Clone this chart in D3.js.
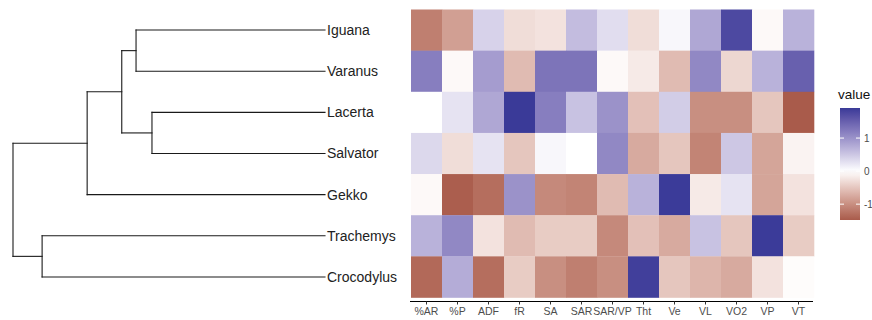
<!DOCTYPE html>
<html>
<head>
<meta charset="utf-8">
<script src="https://cdn.jsdelivr.net/npm/d3@7"></script>
<style>
  html, body { margin: 0; padding: 0; background: #fff; }
  svg { display: block; font-family: "Liberation Sans", Arial, Helvetica, sans-serif; }
</style>
</head>
<body>
<svg id="chart" width="872" height="320"></svg>
<script>
// --- datos ---
const species = ["Iguana", "Varanus", "Lacerta", "Salvator", "Gekko", "Trachemys", "Crocodylus"];
const variables = ["%AR", "%P", "ADF", "fR", "SA", "SAR", "SAR/VP", "Tht", "Ve", "VL", "VO2", "VP", "VT"];

// valores escalados, una fila por especie (mismo orden que species)
const iguanaVals     = [-1.15, -0.85,  0.40, -0.30, -0.25,  0.60,  0.30, -0.30,  0.07,  0.80,  1.75, -0.05,  0.70];
const varanusVals    = [ 1.20, -0.05,  0.90, -0.60,  1.30,  1.30, -0.05, -0.18, -0.60,  1.10, -0.35,  0.70,  1.50];
const lacertaVals    = [ 0.00,  0.25,  0.80,  1.91,  1.20,  0.55,  1.00, -0.55,  0.45, -1.00, -1.00, -0.50, -1.48];
const salvatorVals   = [ 0.35, -0.30,  0.25, -0.50,  0.07,  0.00,  1.10, -0.75, -0.50, -1.10,  0.50, -0.80, -0.10];
const gekkoVals      = [-0.05, -1.45, -1.30,  1.00, -1.05, -1.10, -0.60,  0.70,  1.90, -0.18,  0.25, -0.80, -0.25];
const trachemysVals  = [ 0.70,  1.10, -0.25, -0.60, -0.45, -0.45, -1.05, -0.55, -0.75,  0.55, -0.50,  1.90, -0.45];
const crocodylusVals = [-1.35,  0.75, -1.30, -0.45, -1.00, -1.15, -1.00,  1.85, -0.50, -0.65, -0.75, -0.25, -0.03];
const rowValues = [iguanaVals, varanusVals, lacertaVals, salvatorVals, gekkoVals, trachemysVals, crocodylusVals];

// dendrograma: [hijo A, hijo B, altura, nombre del nodo]
const merges = [
  ["Iguana", "Varanus", 3.44, "n1"],
  ["Lacerta", "Salvator", 3.15, "n2"],
  ["n1", "n2", 3.70, "n3"],
  ["n3", "Gekko", 4.33, "n4"],
  ["Trachemys", "Crocodylus", 5.15, "n5"],
  ["n4", "n5", 5.68, "root"]
];

const legendBreaks = [1, 0, -1];

// --- escalas ---
const svg = d3.select("#chart");

const x = d3.scaleBand().domain(variables).range([411, 814]).padding(0);
const y = d3.scaleBand().domain(species).range([9.5, 297.5]).padding(0);

const allVals = rowValues.flat();
const maxAbs = d3.max(allVals, v => Math.abs(v));
const color = d3.scaleLinear()
  .domain([-maxAbs, 0, maxAbs])
  .range(["#8a2b1e", "#ffffff", "#3A3A98"])
  .interpolate(d3.interpolateLab);

// --- heatmap ---
const cells = [];
species.forEach((s, i) => {
  variables.forEach((v, j) => cells.push({ s, v, value: rowValues[i][j] }));
});

svg.append("g").selectAll("rect")
  .data(cells)
  .join("rect")
  .attr("x", d => x(d.v))
  .attr("y", d => y(d.s))
  .attr("width", x.bandwidth() + 0.3)
  .attr("height", y.bandwidth() + 0.3)
  .attr("fill", d => color(d.value));

// eje x
const xAxis = svg.append("g")
  .attr("transform", "translate(0,301.5)")
  .call(d3.axisBottom(x).tickSize(3).tickPadding(3).tickSizeOuter(0));
xAxis.select(".domain").attr("stroke", "#000").attr("d", "M410,0H813");
xAxis.selectAll(".tick line").attr("stroke", "#333");
xAxis.selectAll(".tick text")
  .attr("fill", "#4d4d4d")
  .style("font-size", "10.5px");

// --- dendrograma ---
const heights = { };
species.forEach(s => heights[s] = 0);
const children = {};
merges.forEach(([a, b, h, name]) => { heights[name] = h; children[name] = [a, b]; });

const hx = d3.scaleLinear().domain([0, d3.max(merges, m => m[2])]).range([325, 13]);

const nodeY = {};
function placeY(name) {
  if (!children[name]) {
    nodeY[name] = y(name) + y.bandwidth() / 2;
  } else {
    const [a, b] = children[name];
    nodeY[name] = (placeY(a) + placeY(b)) / 2;
  }
  return nodeY[name];
}
placeY("root");

const segs = [];
merges.forEach(([a, b, h, name]) => {
  segs.push([hx(h), nodeY[a], hx(h), nodeY[b]]);
  segs.push([hx(h), nodeY[a], hx(heights[a]), nodeY[a]]);
  segs.push([hx(h), nodeY[b], hx(heights[b]), nodeY[b]]);
});

svg.append("g").selectAll("line")
  .data(segs)
  .join("line")
  .attr("x1", d => d[0]).attr("y1", d => d[1])
  .attr("x2", d => d[2]).attr("y2", d => d[3])
  .attr("stroke", "#1a1a1a")
  .attr("stroke-width", 1.1)
  .attr("stroke-linecap", "square");

svg.append("g").selectAll("text")
  .data(species)
  .join("text")
  .attr("x", 327)
  .attr("y", d => nodeY[d])
  .attr("dy", "0.35em")
  .attr("fill", "#222")
  .style("font-size", "14px")
  .text(d => d);

// --- leyenda ---
const ext = d3.extent(allVals);
const ly = d3.scaleLinear().domain(ext).range([220, 108]);
const legend = svg.append("g");

legend.append("text")
  .attr("x", 838).attr("y", 99)
  .attr("fill", "#111")
  .style("font-size", "13.5px")
  .text("value");

const grad = svg.append("defs").append("linearGradient")
  .attr("id", "lg").attr("x1", 0).attr("y1", 1).attr("x2", 0).attr("y2", 0);
d3.range(0, 1.0001, 0.05).forEach(t => {
  grad.append("stop")
    .attr("offset", t)
    .attr("stop-color", color(ext[0] + t * (ext[1] - ext[0])));
});

legend.append("rect")
  .attr("x", 840).attr("y", 108)
  .attr("width", 20).attr("height", 112)
  .attr("fill", "url(#lg)");

legendBreaks.forEach(b => {
  legend.append("line").attr("x1", 840).attr("x2", 844)
    .attr("y1", ly(b)).attr("y2", ly(b)).attr("stroke", "#fff");
  legend.append("line").attr("x1", 856).attr("x2", 860)
    .attr("y1", ly(b)).attr("y2", ly(b)).attr("stroke", "#fff");
  legend.append("text")
    .attr("x", 864).attr("y", ly(b)).attr("dy", "0.35em")
    .attr("fill", "#4d4d4d")
    .style("font-size", "10px")
    .text(b);
});
</script>
</body>
</html>
